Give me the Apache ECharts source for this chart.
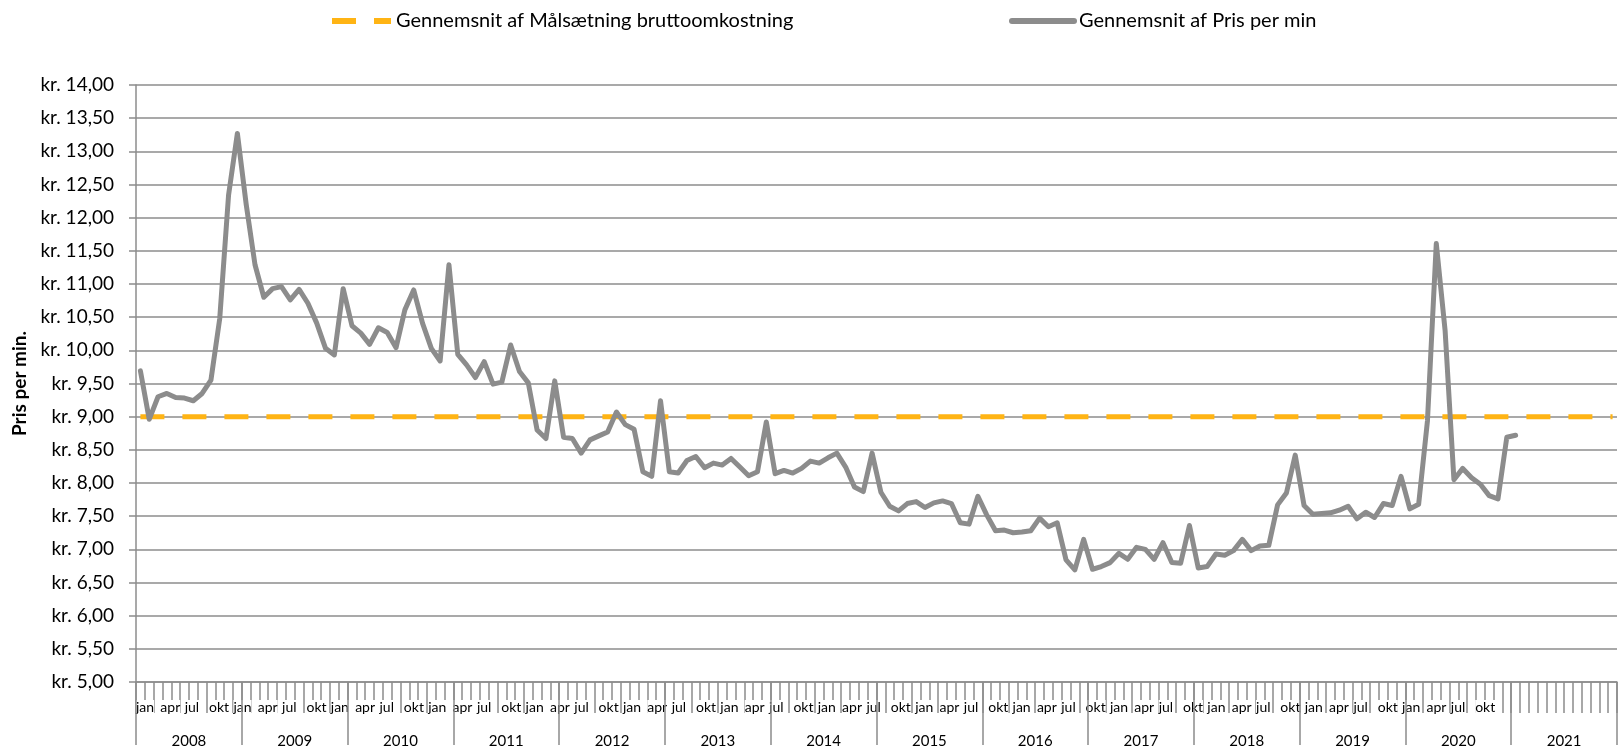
<!DOCTYPE html>
<html>
<head>
<meta charset="utf-8">
<script src="https://cdn.jsdelivr.net/npm/echarts@6/dist/echarts.min.js"></script>
<style>
html,body{margin:0;padding:0;background:#fff;}
#chart{width:1623px;height:749px;}
</style>
</head>
<body>
<div id="chart"></div>
<script>
// ---- data ----
const years = ['2008','2009','2010','2011','2012','2013','2014','2015','2016','2017','2018','2019','2020','2021'];
const monthNames = ['jan','feb','mar','apr','maj','jun','jul','aug','sep','okt','nov','dec'];
const monthLabelCycle = ['jan','apr','jul','okt'];
const monthLabelCount = 56;

const seriesNames = ['Gennemsnit af Målsætning bruttoomkostning', 'Gennemsnit af Pris per min'];

// Gennemsnit af Pris per min (jan 2008 .. jan 2021)
const priceValues = [
  9.69, 8.96, 9.30, 9.35, 9.29, 9.28, 9.24, 9.35, 9.55, 10.48, 12.34, 13.27,
  12.20, 11.29, 10.80, 10.93, 10.96, 10.76, 10.92, 10.71, 10.41, 10.03, 9.93, 10.93,
  10.37, 10.26, 10.09, 10.34, 10.27, 10.04, 10.61, 10.91, 10.41, 10.03, 9.84, 11.29,
  9.94, 9.78, 9.59, 9.83, 9.49, 9.52, 10.08, 9.68, 9.51, 8.80, 8.67, 9.54,
  8.69, 8.67, 8.45, 8.65, 8.71, 8.77, 9.07, 8.88, 8.81, 8.17, 8.10, 9.24,
  8.17, 8.15, 8.34, 8.40, 8.23, 8.30, 8.27, 8.37, 8.24, 8.11, 8.17, 8.92,
  8.14, 8.19, 8.15, 8.22, 8.33, 8.30, 8.38, 8.45, 8.24, 7.94, 7.87, 8.45,
  7.86, 7.65, 7.58, 7.69, 7.72, 7.63, 7.70, 7.73, 7.69, 7.40, 7.38, 7.80,
  7.52, 7.28, 7.29, 7.25, 7.26, 7.28, 7.47, 7.34, 7.40, 6.84, 6.69, 7.15,
  6.70, 6.74, 6.80, 6.94, 6.85, 7.03, 7.00, 6.85, 7.10, 6.80, 6.79, 7.36,
  6.72, 6.74, 6.93, 6.91, 6.98, 7.15, 6.98, 7.05, 7.06, 7.67, 7.85, 8.42,
  7.66, 7.53, 7.54, 7.55, 7.59, 7.65, 7.46, 7.56, 7.48, 7.69, 7.66, 8.10,
  7.61, 7.68, 8.94, 11.61, 10.30, 8.05, 8.22, 8.08, 7.98, 7.81, 7.76, 8.69,
  8.72
];

// Gennemsnit af Målsætning bruttoomkostning (jan 2008 .. dec 2021)
const targetValues = [
  9, 9, 9, 9, 9, 9, 9, 9, 9, 9, 9, 9,
  9, 9, 9, 9, 9, 9, 9, 9, 9, 9, 9, 9,
  9, 9, 9, 9, 9, 9, 9, 9, 9, 9, 9, 9,
  9, 9, 9, 9, 9, 9, 9, 9, 9, 9, 9, 9,
  9, 9, 9, 9, 9, 9, 9, 9, 9, 9, 9, 9,
  9, 9, 9, 9, 9, 9, 9, 9, 9, 9, 9, 9,
  9, 9, 9, 9, 9, 9, 9, 9, 9, 9, 9, 9,
  9, 9, 9, 9, 9, 9, 9, 9, 9, 9, 9, 9,
  9, 9, 9, 9, 9, 9, 9, 9, 9, 9, 9, 9,
  9, 9, 9, 9, 9, 9, 9, 9, 9, 9, 9, 9,
  9, 9, 9, 9, 9, 9, 9, 9, 9, 9, 9, 9,
  9, 9, 9, 9, 9, 9, 9, 9, 9, 9, 9, 9,
  9, 9, 9, 9, 9, 9, 9, 9, 9, 9, 9, 9,
  9, 9, 9, 9, 9, 9, 9, 9, 9, 9, 9, 9
];

// ---- chart ----
const categories = [];
years.forEach(y => monthNames.forEach(m => categories.push(m + ' ' + y)));

const GRID = '#8c8c8c';
const FONT = 'Lato';
const monthLabelStep = 2.762;

const legendBase = {
  top: 6, itemHeight: 21, itemGap: 0, selectedMode: false,
  textStyle: {fontFamily: FONT, fontSize: 20, color: '#000'},
  lineStyle: {width: 6},
  itemStyle: {opacity: 0, borderWidth: 0}
};

const chart = echarts.init(document.getElementById('chart'), null, {renderer: 'canvas'});
chart.setOption({
  animation: false,
  backgroundColor: '#ffffff',
  grid: {left: 136, right: 6, top: 85, bottom: 67, containLabel: false},
  legend: [
    Object.assign({}, legendBase, {data: [seriesNames[0]], left: 324, itemWidth: 59}),
    Object.assign({}, legendBase, {data: [seriesNames[1]], left: 1004, itemWidth: 62})
  ],
  xAxis: [
    {
      type: 'category', data: categories, position: 'bottom', boundaryGap: true, z: 1,
      axisLine: {show: true, lineStyle: {color: GRID, width: 1.5}},
      axisTick: {show: true, interval: 0, length: 31, lineStyle: {color: GRID, width: 1.5}},
      axisLabel: {show: false},
      splitLine: {show: false}
    },
    {
      type: 'category', data: years, position: 'bottom', boundaryGap: true, z: 4,
      axisLine: {show: false},
      axisTick: {show: true, interval: 0, length: 63, lineStyle: {color: GRID, width: 1.5}},
      axisLabel: {interval: 0, margin: 51, fontFamily: FONT, fontSize: 15, lineHeight: 16, color: '#000'},
      splitLine: {show: false}
    },
    {
      type: 'value', position: 'bottom', min: 0, max: 168, interval: monthLabelStep, z: 3,
      axisLine: {show: false}, axisTick: {show: false}, splitLine: {show: false},
      axisLabel: {
        align: 'left', margin: 18, fontFamily: FONT, fontSize: 14, lineHeight: 15, color: '#000',
        backgroundColor: '#fff', showMinLabel: true, showMaxLabel: true, hideOverlap: false,
        formatter: function (v) {
          const k = Math.round(v / monthLabelStep);
          return k < monthLabelCount ? monthLabelCycle[k % 4] : '';
        }
      }
    }
  ],
  yAxis: {
    type: 'value', min: 5, max: 14, interval: 0.5,
    axisLine: {show: true, lineStyle: {color: GRID, width: 1.5}},
    axisTick: {show: true, length: 7, lineStyle: {color: GRID, width: 1.5}},
    splitLine: {show: true, lineStyle: {color: GRID, width: 1.5}},
    axisLabel: {
      margin: 22, fontFamily: FONT, fontSize: 19, color: '#000',
      formatter: v => 'kr. ' + v.toFixed(2).replace('.', ',')
    },
    name: 'Pris per min.', nameLocation: 'middle', nameGap: 107,
    nameTextStyle: {fontFamily: FONT, fontWeight: 'bold', fontSize: 19, color: '#000'}
  },
  series: [
    {
      name: seriesNames[0], type: 'line', data: targetValues, xAxisIndex: 0, yAxisIndex: 0,
      symbol: 'none', silent: true, z: 2,
      itemStyle: {color: '#FFB414'},
      lineStyle: {color: '#FFB414', width: 5, type: [24, 18], cap: 'butt'}
    },
    {
      name: seriesNames[1], type: 'line', data: priceValues, xAxisIndex: 0, yAxisIndex: 0,
      symbol: 'none', silent: true, z: 3,
      itemStyle: {color: '#8c8c8c'},
      lineStyle: {color: '#8c8c8c', width: 5, join: 'round', cap: 'round'}
    }
  ]
});
</script>
</body>
</html>
